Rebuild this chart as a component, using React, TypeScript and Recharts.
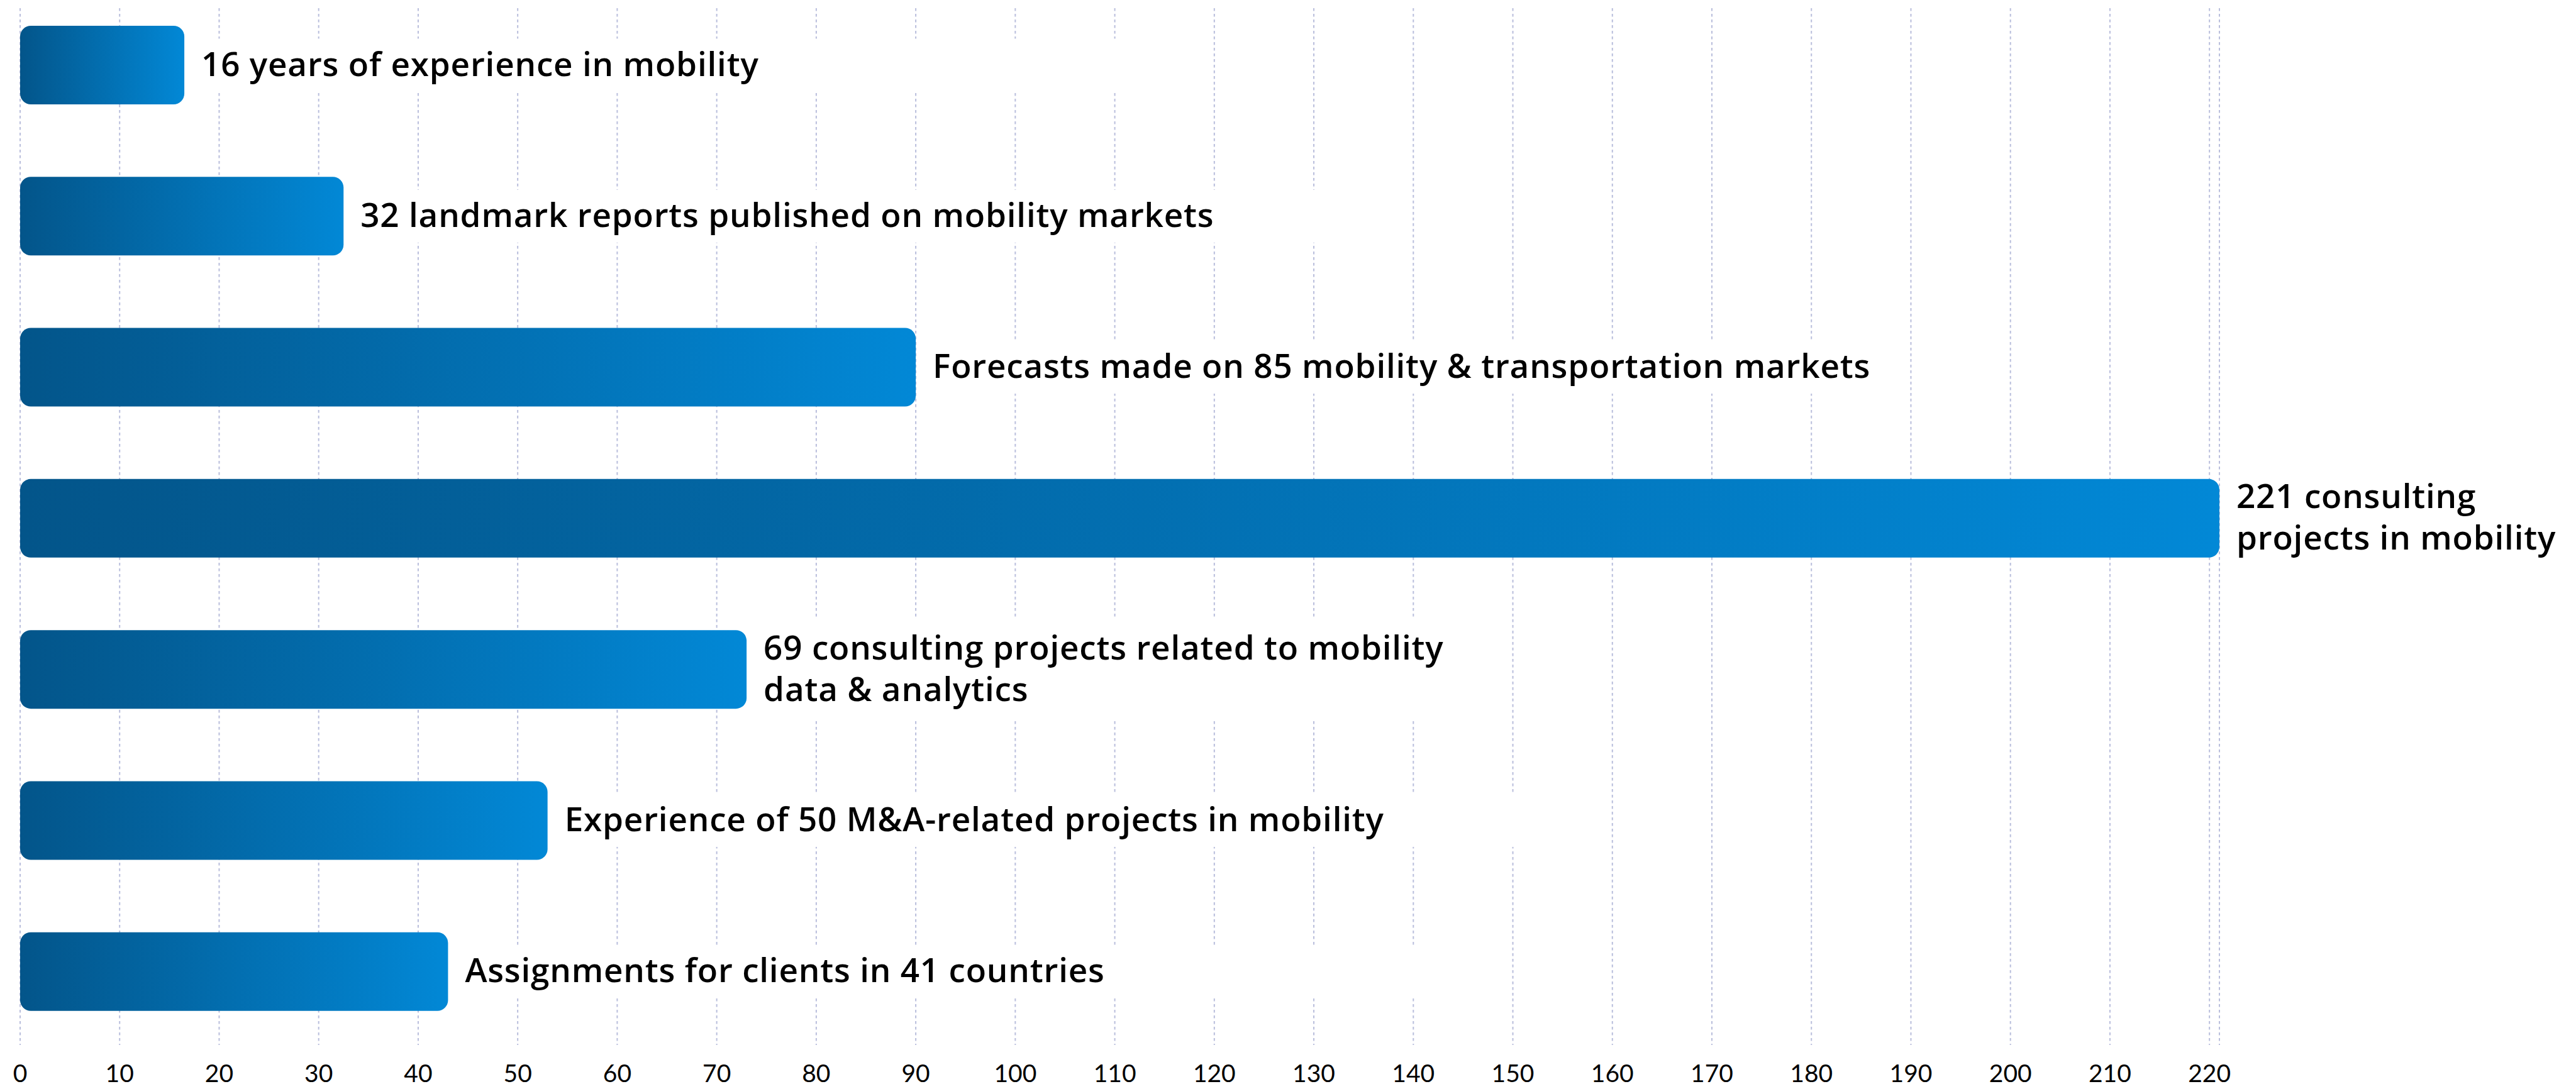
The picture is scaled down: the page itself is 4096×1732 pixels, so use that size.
import React from 'react';
import { BarChart, Bar, XAxis, YAxis, CartesianGrid, LabelList } from 'recharts';

// ---- data ----
const categories = ['experience', 'reports', 'forecasts', 'consulting', 'analytics', 'ma', 'countries'];
const barValues = [16.5, 32.5, 90, 221, 73, 53, 43];
const labelTexts = [
  '16 years of experience in mobility',
  '32 landmark reports published on mobility markets',
  'Forecasts made on 85 mobility & transportation markets',
  '221 consulting\nprojects in mobility',
  '69 consulting projects related to mobility\ndata & analytics',
  'Experience of 50 M&A-related projects in mobility',
  'Assignments for clients in 41 countries',
];
const xTicks = [0, 10, 20, 30, 40, 50, 60, 70, 80, 90, 100, 110, 120, 130, 140, 150, 160, 170, 180, 190, 200, 210, 220];

const data = categories.map((c, i) => ({ category: c, value: barValues[i], label: labelTexts[i] }));

// ---- style ----
const LABEL_FONT = '"Open Sans", Lato, sans-serif';
const TICK_FONT = 'Lato, "Open Sans", sans-serif';
const LABEL_SIZE = 53;
const LETTER = 0.8;
const LINE_H = 66;

let ctx: CanvasRenderingContext2D | null = null;
function measure(t: string): number {
  if (!ctx) ctx = document.createElement('canvas').getContext('2d');
  if (!ctx) return t.length * LABEL_SIZE * 0.57;
  ctx.font = `600 ${LABEL_SIZE}px "Open Sans"`;
  return ctx.measureText(t).width + t.length * LETTER;
}

const renderLabel = (props: any) => {
  const x = Number(props.x);
  const y = Number(props.y);
  const w = Number(props.width);
  const h = Number(props.height);
  const value = String(props.value ?? '');
  const lines = value.split('\n');
  const lx = x + w + 27;
  const cy = y + h / 2;
  const n = lines.length;
  const textW = Math.max(...lines.map(measure));
  const boxW = n > 1 ? textW + 30 : Math.max(1550, textW + 30);
  const boxH = n > 1 ? 160 : 84;
  return (
    <g>
      <rect x={lx - 12} y={cy - boxH / 2} width={boxW} height={boxH} fill="#ffffff" />
      {lines.map((ln, i) => (
        <text
          key={i}
          x={lx}
          y={cy + 17 + (i - (n - 1) / 2) * LINE_H}
          fontFamily={LABEL_FONT}
          fontSize={LABEL_SIZE}
          fontWeight={600}
          letterSpacing={LETTER}
          fill="#000000"
        >
          {ln}
        </text>
      ))}
    </g>
  );
};

export default function App() {
  return (
    <div style={{ position: 'absolute', left: 0, top: 0, width: 4096, height: 1732, background: '#ffffff', fontFamily: LABEL_FONT }}>
      <BarChart
        layout="vertical"
        width={4096}
        height={1732}
        data={data}
        margin={{ top: 13, right: 567, bottom: 0, left: 32 }}
      >
        <defs>
          <linearGradient id="barGrad" x1="0" y1="0" x2="1" y2="0">
            <stop offset="0%" stopColor="#03558a" />
            <stop offset="100%" stopColor="#0288d6" />
          </linearGradient>
        </defs>
        <CartesianGrid horizontal={false} stroke="#b9bedc" strokeWidth={2} strokeDasharray="4.5 4.5" />
        <XAxis
          type="number"
          domain={[0, 221]}
          ticks={xTicks}
          interval={0}
          tickLine={false}
          axisLine={false}
          tickSize={0}
          tickMargin={31}
          height={70}
          tick={{ fontSize: 39, fill: '#000000', fontFamily: TICK_FONT }}
        />
        <YAxis
          type="category"
          dataKey="category"
          width={0}
          tick={false}
          tickLine={false}
          axisLine={{ stroke: '#b0b0b0', strokeWidth: 2 }}
          padding={{ top: -30, bottom: -3 }}
        />
        <Bar dataKey="value" fill="url(#barGrad)" barSize={125} radius={17} isAnimationActive={false}>
          <LabelList dataKey="label" content={renderLabel} />
        </Bar>
      </BarChart>
    </div>
  );
}
